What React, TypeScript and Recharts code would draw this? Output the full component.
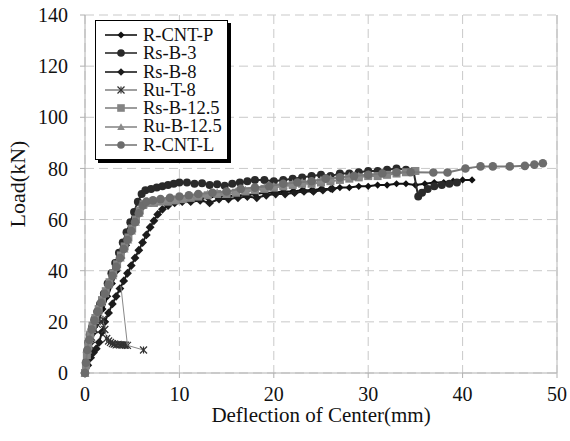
import React from "react";
import {
  CartesianGrid,
  Label,
  Legend,
  ReferenceLine,
  Scatter,
  ScatterChart,
  XAxis,
  YAxis,
} from "recharts";

type Pt = [number, number];

const xTicks = [0, 10, 20, 30, 40, 50];
const yTicks = [0, 20, 40, 60, 80, 100, 120, 140];

// deflection (mm), load (kN)
const rCntP: Pt[] = [
  [0, 0], [0.2, 4], [0.4, 8], [0.7, 12], [1.0, 16], [1.4, 20], [1.9, 25], [2.4, 30],
  [2.9, 35], [3.4, 40], [3.9, 45], [4.4, 50], [4.9, 55], [5.4, 60], [5.9, 64], [6.4, 66],
  [7.0, 67], [7.8, 67.5], [8.6, 67.5], [9.4, 68], [10.2, 68], [11, 68.5], [12, 68],
  [13, 68.5], [14, 69], [15, 69], [16, 69.5], [17, 69.5], [18, 70], [19, 70.5], [20, 70.5],
  [21, 71], [22, 71], [23, 71.5], [24, 71.5], [25, 72], [26, 72], [27, 72.5], [28, 72.5],
  [29, 73], [30, 73], [31, 73.5], [32, 73.5], [33, 74], [34, 74], [35, 73.5], [36, 74],
  [37, 74.5], [38, 74.5], [39, 75], [40, 75.5], [41, 75.5],
];

const rsB3: Pt[] = [
  [0, 0], [0.1, 4], [0.2, 8], [0.35, 12], [0.5, 15], [0.75, 18], [1.0, 21], [1.3, 24],
  [1.6, 27], [2.0, 31], [2.4, 35], [2.8, 39], [3.2, 43], [3.6, 47], [4.0, 51], [4.4, 55],
  [4.8, 59], [5.2, 63], [5.6, 67], [6.0, 70], [6.4, 71.5], [7.0, 72], [7.6, 72.5],
  [8.2, 73], [8.8, 73.5], [9.4, 74], [10.0, 74.5], [10.8, 74.5], [11.6, 74], [12.4, 74.2],
  [13.2, 73.5], [14.0, 73.8], [14.8, 73.2], [15.6, 74], [16.4, 74.5], [17.2, 75], [18, 75.5],
  [19, 75.5], [20, 75], [21, 75.5], [22, 76], [23, 76.5], [24, 77], [25, 77.5], [26, 77],
  [27, 78], [28, 78], [29, 78.5], [30, 79], [31, 79], [32, 79.5], [33, 80], [34, 79.5],
  [34.8, 79], [35.3, 69], [35.7, 70.5], [36.3, 72], [37, 73], [37.8, 73.5], [38.6, 74],
  [39.4, 74.5],
];

const rsB8: Pt[] = [
  [0, 0], [0.3, 3], [0.6, 6], [0.9, 8], [1.2, 9.5], [1.5, 12], [1.8, 16], [2.1, 20],
  [2.5, 23.5], [2.9, 27], [3.3, 30], [3.7, 33], [4.1, 36], [4.5, 39], [4.9, 42], [5.3, 45],
  [5.7, 48], [6.1, 51], [6.5, 54], [6.9, 57], [7.3, 59.5], [7.7, 62], [8.2, 64], [8.8, 65.5],
  [9.5, 66.5], [10.3, 67], [11.2, 67], [12.2, 67.5], [13.2, 66.5], [14.2, 68], [15.2, 68],
  [16.2, 68.5], [17.2, 69], [18.2, 68.5], [19.2, 69.5], [20.2, 70], [21.2, 70], [22.2, 70.5],
  [23.2, 71], [24.2, 71], [25.2, 71.5], [26.2, 72],
];

const ruT8: Pt[] = [
  [0, 0], [0.15, 4], [0.3, 8], [0.5, 11], [0.7, 14], [1.0, 17], [1.3, 19], [1.6, 20],
  [1.9, 21], [2.1, 17], [2.3, 13.5], [2.5, 12.5], [2.7, 12], [2.9, 11.5], [3.1, 11.3],
  [3.3, 11], [3.5, 11.2], [3.7, 11], [3.9, 11], [4.1, 11], [4.3, 10.9], [4.5, 10.8], [6.2, 9],
];
const ruT8Drop: Pt[] = [[3.8, 34], [4.5, 10.8]];

const rsB125: Pt[] = [
  [0, 0], [0.1, 3], [0.2, 7], [0.35, 11], [0.55, 15], [0.8, 18.5], [1.1, 21.5], [1.45, 25],
  [1.8, 28.5], [2.2, 32], [2.6, 35.5], [3.0, 39], [3.4, 42.5], [3.8, 46], [4.2, 49.5],
  [4.6, 53], [5.0, 56.5], [5.4, 60], [5.8, 63.5], [6.2, 66], [6.7, 66.5], [7.3, 66.5],
  [8, 67], [8.8, 67], [9.6, 67.5], [10.4, 68], [11.2, 68.5], [12, 69], [13, 69.5], [14, 70],
  [15, 70], [16, 70.5], [17, 71], [18, 71.5], [19, 72], [20, 72.5], [21, 73], [22, 73.5],
  [23, 74], [24, 74], [25, 74.5], [26, 75], [27, 75.5], [28, 76], [29, 76.5], [30, 77],
  [31, 77], [32, 77.5], [33, 78], [34, 78.5], [35, 79],
];

const ruB125: Pt[] = [
  [0, 0], [0.15, 5], [0.3, 9], [0.5, 13], [0.75, 17], [1.05, 20.5], [1.4, 24], [1.75, 27.5],
  [2.15, 31], [2.55, 34.5], [2.95, 38], [3.35, 41.5], [3.75, 45], [4.15, 48.5], [4.55, 52],
  [4.95, 55.5], [5.35, 59], [5.75, 62.5], [6.15, 65.5], [6.6, 67], [7.2, 67], [7.9, 67.5],
  [8.7, 68], [9.5, 68], [10.3, 68.5], [11.1, 69], [12, 69.5], [13, 70], [14, 70.5], [15, 71],
  [16, 71], [17, 71.5], [18, 72], [19, 72.5], [20, 73], [21, 73.5], [22, 74], [23, 74.5],
  [24, 75], [25, 75.5], [26, 76], [27, 76.5], [28, 77], [29, 77], [30, 77.5],
];

const rCntL: Pt[] = [
  [0, 0], [0.1, 4], [0.25, 9], [0.45, 13], [0.7, 17], [1.0, 20.5], [1.35, 24], [1.7, 27.5],
  [2.1, 31], [2.5, 34.5], [2.9, 38], [3.3, 41.5], [3.7, 45], [4.1, 48.5], [4.5, 52],
  [4.9, 55.5], [5.3, 59], [5.7, 62.5], [6.1, 65.5], [6.5, 67], [7.2, 67.5], [8, 68], [9, 68.5],
  [10, 69], [11, 69.5], [12, 70], [13.5, 70.5], [15, 71], [16.5, 72], [18, 72.5], [19.5, 73],
  [21, 74], [22.5, 74.5], [24, 75], [25.5, 76], [27, 76.5], [28.5, 77], [30, 77.5], [31.5, 78],
  [33, 78.5], [34.5, 78.5], [36.9, 78.4], [38.4, 78.4], [40.3, 80], [41.9, 80.8], [43.2, 80.8],
  [45, 80.8], [46.6, 81], [47.6, 81.5], [48.5, 82],
];

type Kind = "diamond" | "circle" | "asterisk" | "square" | "triangle";

const series = [
  { name: "R-CNT-P", data: rCntP, kind: "diamond" as Kind, color: "#111", line: "#111", size: 3.6 },
  { name: "Rs-B-3", data: rsB3, kind: "circle" as Kind, color: "#2a2a2a", line: "#2a2a2a", size: 4 },
  { name: "Rs-B-8", data: rsB8, kind: "diamond" as Kind, color: "#1c1c1c", line: "#1c1c1c", size: 4.4 },
  { name: "Ru-T-8", data: ruT8, kind: "asterisk" as Kind, color: "#333", line: "#888", size: 3.5 },
  { name: "Rs-B-12.5", data: rsB125, kind: "square" as Kind, color: "#848484", line: "#848484", size: 4 },
  { name: "Ru-B-12.5", data: ruB125, kind: "triangle" as Kind, color: "#8a8a8a", line: "#8a8a8a", size: 4.4 },
  { name: "R-CNT-L", data: rCntL, kind: "circle" as Kind, color: "#6c6c6c", line: "#7a7a7a", size: 4.3 },
];

const FONT = '"Liberation Serif", "Times New Roman", serif';

function Marker({ cx, cy, kind, color, size }: { cx: number; cy: number; kind: Kind; color: string; size: number }) {
  if (cx == null || cy == null) return <g />;
  const s = size;
  switch (kind) {
    case "diamond":
      return <polygon points={`${cx},${cy - s} ${cx + s},${cy} ${cx},${cy + s} ${cx - s},${cy}`} fill={color} />;
    case "square":
      return <rect x={cx - s} y={cy - s} width={s * 2} height={s * 2} fill={color} />;
    case "triangle":
      return <polygon points={`${cx},${cy - s} ${cx + s},${cy + s * 0.8} ${cx - s},${cy + s * 0.8}`} fill={color} />;
    case "asterisk":
      return (
        <g stroke={color} strokeWidth={1.2}>
          <line x1={cx - s} y1={cy - s} x2={cx + s} y2={cy + s} />
          <line x1={cx - s} y1={cy + s} x2={cx + s} y2={cy - s} />
          <line x1={cx} y1={cy - s} x2={cx} y2={cy + s} />
        </g>
      );
    default:
      return <circle cx={cx} cy={cy} r={s} fill={color} />;
  }
}

const toRows = (pts: Pt[]) => pts.map(([x, y]) => ({ x, y }));

function LegendBox() {
  return (
    <div
      style={{
        border: "1px solid #000",
        boxShadow: "3px 3px 0 #000",
        background: "#fff",
        padding: "5px 5px 5px 9px",
        fontFamily: FONT,
        fontSize: 18.5,
        lineHeight: "18.3px",
        color: "#111",
      }}
    >
      {series.map((s) => (
        <div key={s.name} style={{ display: "flex", alignItems: "center", height: 18.3 }}>
          <svg width={32} height={14} style={{ marginRight: 6 }}>
            <line x1={0} y1={7} x2={32} y2={7} stroke={s.line} strokeWidth={1.6} />
            <Marker cx={16} cy={7} kind={s.kind} color={s.color} size={Math.min(s.size, 3.8)} />
          </svg>
          <span>{s.name}</span>
        </div>
      ))}
    </div>
  );
}

export default function App() {
  return (
    <div style={{ position: "absolute", left: 0, top: 0, width: 570, height: 441, background: "#fff" }}>
      <ScatterChart width={570} height={441} margin={{ top: 15, right: 13, bottom: 0, left: 0 }}>
        <CartesianGrid stroke="#c9c9c9" strokeDasharray="9 5" />
        <XAxis
          type="number"
          dataKey="x"
          domain={[0, 50]}
          ticks={xTicks}
          height={68}
          axisLine={{ stroke: "#b0b0b0" }}
          tickLine={{ stroke: "#b0b0b0" }}
          tickSize={5}
          tickMargin={9}
          tick={{ fill: "#111", fontSize: 20, fontFamily: FONT }}
        >
          <Label
            value="Deflection of Center(mm)"
            position="insideBottom"
            offset={19}
            style={{ fill: "#111", fontSize: 21, fontFamily: FONT }}
          />
        </XAxis>
        <YAxis
          type="number"
          dataKey="y"
          domain={[0, 140]}
          ticks={yTicks}
          width={85}
          axisLine={{ stroke: "#b0b0b0" }}
          tickLine={{ stroke: "#b0b0b0" }}
          tickSize={5}
          tickMargin={12}
          tick={{ fill: "#111", fontSize: 20, fontFamily: FONT }}
        >
          <Label
            content={() => (
              <text
                x={17}
                y={184}
                transform="rotate(-90 17 184)"
                textAnchor="middle"
                dominantBaseline="central"
                style={{ fill: "#111", fontSize: 22, fontFamily: FONT }}
              >
                Load(kN)
              </text>
            )}
          />
        </YAxis>
        <ReferenceLine x={50} stroke="#b8b8b8" />
        {series.map((s) => (
          <Scatter
            key={s.name}
            name={s.name}
            data={toRows(s.data)}
            fill={s.color}
            line={{ stroke: s.line, strokeWidth: s.kind === "asterisk" ? 1 : 2 }}
            isAnimationActive={false}
            shape={(p: any) => <Marker cx={p.cx} cy={p.cy} kind={s.kind} color={s.color} size={s.size} />}
          />
        ))}
        <Scatter
          name="Ru-T-8 drop"
          data={toRows(ruT8Drop)}
          fill="#888"
          line={{ stroke: "#888", strokeWidth: 1 }}
          legendType="none"
          isAnimationActive={false}
          shape={() => <g />}
        />
        <Legend
          layout="vertical"
          align="center"
          verticalAlign="middle"
          content={() => <LegendBox />}
          wrapperStyle={{ left: 95, top: 20, width: "auto", height: "auto" }}
        />
      </ScatterChart>
    </div>
  );
}
